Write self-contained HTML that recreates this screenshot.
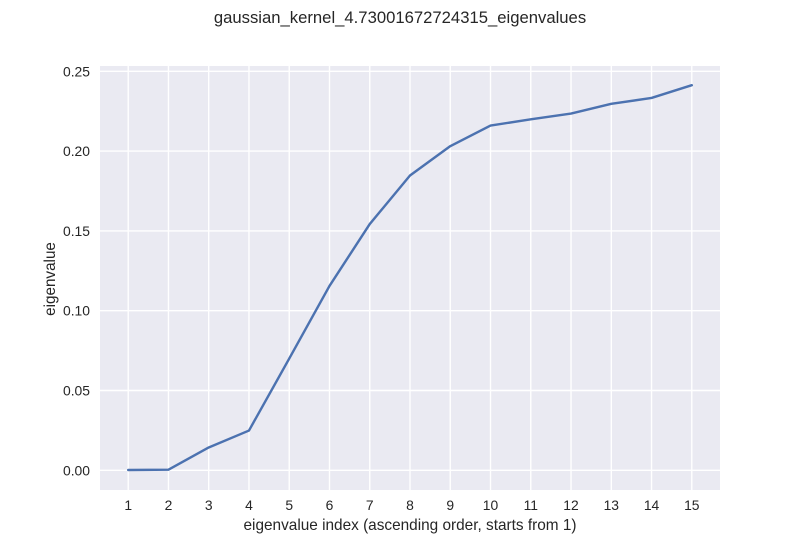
<!DOCTYPE html>
<html>
<head>
<meta charset="utf-8">
<style>
html,body{margin:0;padding:0;background:#fff;}
svg{display:block;}
text{font-family:"Liberation Sans",Arial,sans-serif;fill:#262626;}
</style>
</head>
<body>
<svg id="chart" width="800" height="550" viewBox="0 0 800 550" xmlns="http://www.w3.org/2000/svg">
<text x="400" y="23" text-anchor="middle" font-size="16.67">gaussian_kernel_4.73001672724315_eigenvalues</text>
<rect x="100" y="66" width="620" height="424" fill="#EAEAF2"/>
<g id="grid"></g>
<path id="line" fill="none" stroke="#4C72B0" stroke-width="2.43" stroke-linejoin="round" stroke-linecap="round"/>
<g id="ticks"></g>
<text x="410" y="530" text-anchor="middle" font-size="15.37">eigenvalue index (ascending order, starts from 1)</text>
<text transform="translate(55 279) rotate(-90)" text-anchor="middle" font-size="15.28">eigenvalue</text>
</svg>
<script>
const indices = [1, 2, 3, 4, 5, 6, 7, 8, 9, 10, 11, 12, 13, 14, 15];
const eigenvalues = [0.0002, 0.0004, 0.0143, 0.0249, 0.0700, 0.1155, 0.1543, 0.1847, 0.2031, 0.2160, 0.2199, 0.2235, 0.2296, 0.2333, 0.2413];
const yTicks = [0, 0.05, 0.10, 0.15, 0.20, 0.25];
const xTicks = [1, 2, 3, 4, 5, 6, 7, 8, 9, 10, 11, 12, 13, 14, 15];

function xScale(v) { return 128.2 + (v - 1) * (691.8 - 128.2) / 14; }
function yScale(v) { return 470.3 - v * (470.3 - 71.3) / 0.25; }

const NS = 'http://www.w3.org/2000/svg';
const grid = document.getElementById('grid');
const ticks = document.getElementById('ticks');

function gridLine(x1, y1, x2, y2) {
  const l = document.createElementNS(NS, 'line');
  l.setAttribute('x1', x1);
  l.setAttribute('y1', y1);
  l.setAttribute('x2', x2);
  l.setAttribute('y2', y2);
  l.setAttribute('stroke', '#fff');
  l.setAttribute('stroke-width', '1.39');
  return l;
}

xTicks.forEach(function (t) {
  const x = xScale(t);
  const l = gridLine(x, 66, x, 490);
  
  
  grid.appendChild(l);
  const s = document.createElementNS(NS, 'text');
  
  
  s.setAttribute('x', x);
  s.setAttribute('y', 510);
  s.setAttribute('text-anchor', 'middle');
  s.setAttribute('font-size', '13.89');
  s.textContent = t;
  ticks.appendChild(s);
});

yTicks.forEach(function (t) {
  const y = yScale(t);
  const l = gridLine(100, y, 720, y);
  
  
  grid.appendChild(l);
  const s = document.createElementNS(NS, 'text');
  
  
  s.setAttribute('x', 90);
  s.setAttribute('y', y + 5);
  s.setAttribute('text-anchor', 'end');
  s.setAttribute('font-size', '13.89');
  s.textContent = t.toFixed(2);
  ticks.appendChild(s);
});

document.getElementById('line').setAttribute('d', eigenvalues.map(function (v, i) {
  return (i ? 'L' : 'M') + xScale(indices[i]).toFixed(2) + ' ' + yScale(v).toFixed(2);
}).join(' '));
</script>
</body>
</html>
